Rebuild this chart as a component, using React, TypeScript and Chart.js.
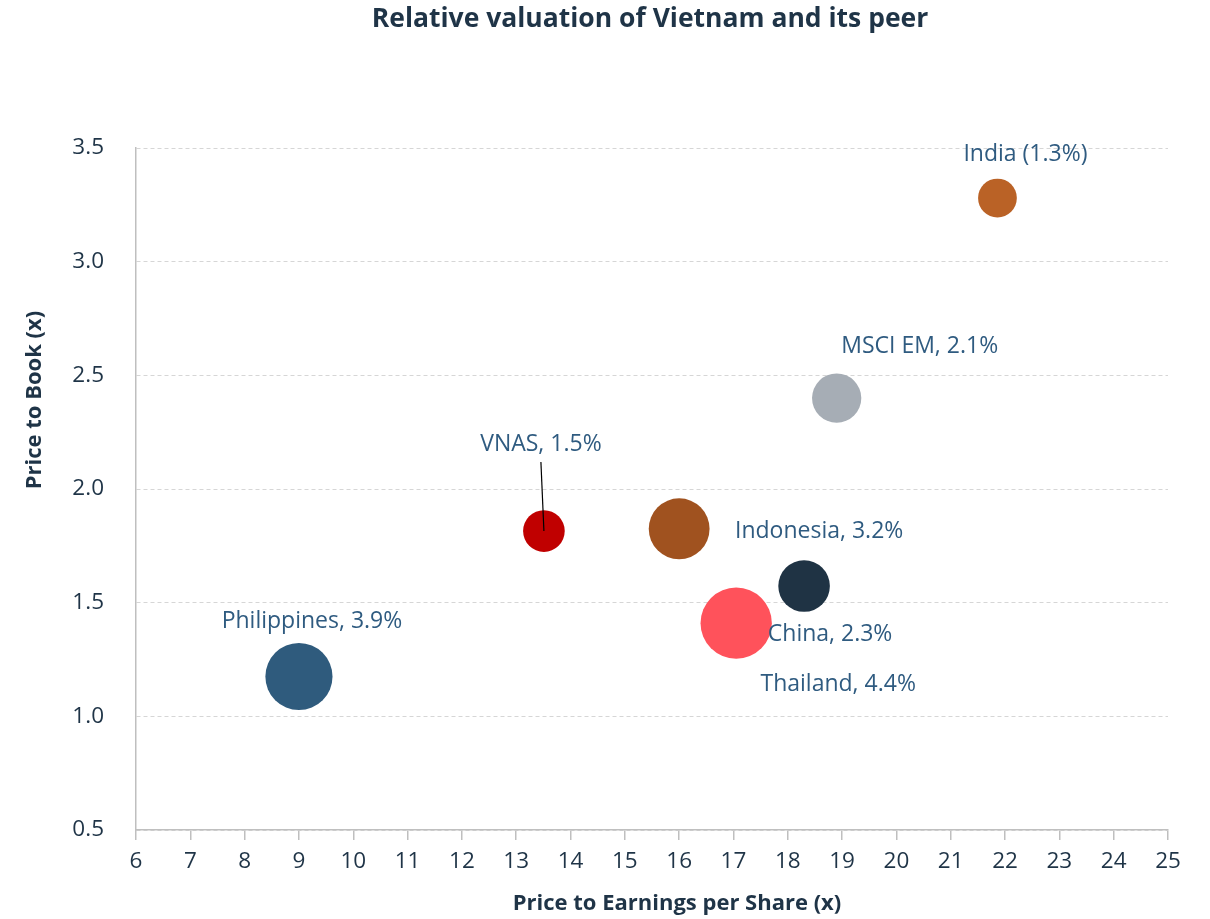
import React, { useEffect, useRef } from "react";
import { Chart, registerables } from "chart.js";

Chart.register(...registerables);

const names = ["India (1.3%)", "MSCI EM, 2.1%", "VNAS, 1.5%", "Indonesia, 3.2%", "China, 2.3%", "Thailand, 4.4%", "Philippines, 3.9%"];
const peValues = [21.86, 18.9, 13.51, 16.0, 18.3, 17.05, 9.0];
const pbValues = [3.28, 2.4, 1.815, 1.825, 1.573, 1.41, 1.175];
const weightPct = [1.3, 2.1, 1.5, 3.2, 2.3, 4.4, 3.9];
const colors = ["#BA6226", "#A6ADB5", "#C00000", "#A0521F", "#1F3344", "#FF525B", "#2F5B7D"];
const xTickValues = [6, 7, 8, 9, 10, 11, 12, 13, 14, 15, 16, 17, 18, 19, 20, 21, 22, 23, 24, 25];
const yTickValues = [0.5, 1.0, 1.5, 2.0, 2.5, 3.0, 3.5];
const titleText = "Relative valuation of Vietnam and its peer";
const xTitle = "Price to Earnings per Share (x)";
const yTitle = "Price to Book (x)";

// label offsets in pixels relative to bubble centre (layout only)
const labelOffsets: [number, number][] = [
  [28, -44], [83, -52], [-3, -87], [140, 3], [26, 48], [102, 61], [13, -55],
];

const FONT = "'Open Sans', 'Noto Sans', sans-serif";
const LABEL_COLOR = "#2F5B80";
const TEXT_DARK = "#1F3447";
const BUBBLE_SCALE = 17;

export default function App() {
  const ref = useRef<HTMLCanvasElement | null>(null);
  useEffect(() => {
    document.body.style.margin = "0";
    const labelPlugin = {
      id: "labels",
      afterDatasetsDraw(chart: any) {
        const ctx = chart.ctx;
        const meta = chart.getDatasetMeta(0);
        ctx.save();
        ctx.textAlign = "center";
        ctx.textBaseline = "middle";
        // chart title
        ctx.fillStyle = TEXT_DARK;
        ctx.font = `bold 26.5px ${FONT}`;
        ctx.fillText(titleText, 650, 19);
        // axis titles
        ctx.font = `bold 22px ${FONT}`;
        ctx.fillText(xTitle, 677, 904);
        ctx.save();
        ctx.translate(35, 400);
        ctx.rotate(-Math.PI / 2);
        ctx.fillText(yTitle, 0, 0);
        ctx.restore();
        // data labels
        ctx.font = `23px ${FONT}`;
        ctx.fillStyle = LABEL_COLOR;
        meta.data.forEach((el: any, i: number) => {
          const [dx, dy] = labelOffsets[i];
          ctx.fillText(names[i], el.x + dx, el.y + dy);
        });
        // VNAS leader line
        const v = meta.data[2];
        ctx.strokeStyle = "#000000";
        ctx.lineWidth = 1.2;
        ctx.beginPath();
        ctx.moveTo(v.x + labelOffsets[2][0], v.y + labelOffsets[2][1] + 18);
        ctx.lineTo(v.x, v.y);
        ctx.stroke();
        ctx.restore();
      },
    };
    const chart = new Chart(ref.current!, {
      type: "bubble",
      data: {
        datasets: [
          {
            data: peValues.map((x, i) => ({ x, y: pbValues[i], r: BUBBLE_SCALE * Math.sqrt(weightPct[i]) })),
            backgroundColor: colors,
            borderWidth: 0,
          },
        ],
      },
      options: {
        animation: false,
        responsive: true,
        maintainAspectRatio: false,
        layout: { padding: { top: 148, right: 42, left: 0, bottom: 0 } },
        plugins: { legend: { display: false }, tooltip: { enabled: false }, title: { display: false } },
        scales: {
          x: {
            type: "linear",
            min: 6,
            max: 25,
            afterBuildTicks: (s: any) => { s.ticks = xTickValues.map((v) => ({ value: v })); },
            afterFit: (s: any) => { s.height = 89; },
            grid: { drawOnChartArea: false, drawTicks: true, tickLength: 10, color: "#BFBFBF", lineWidth: 1.5 },
            border: { display: true, color: "#BFBFBF", width: 1.5 },
            ticks: { color: TEXT_DARK, font: { family: FONT, size: 22.5 }, padding: 8, maxRotation: 0 },
            title: { display: false },
          },
          y: {
            type: "linear",
            min: 0.5,
            max: 3.5,
            afterBuildTicks: (s: any) => { s.ticks = yTickValues.map((v) => ({ value: v })); },
            afterFit: (s: any) => { s.width = 136; },
            grid: { drawTicks: false, color: "#D6D6D6", lineWidth: 1 },
            border: { display: true, color: "#BFBFBF", width: 1.5, dash: [4, 3] },
            ticks: { color: TEXT_DARK, font: { family: FONT, size: 22.5 }, padding: 32, callback: (v: any) => Number(v).toFixed(1) },
            title: { display: false },
          },
        },
      },
      plugins: [labelPlugin],
    } as any);
    return () => chart.destroy();
  }, []);
  return (
    <div style={{ width: 1210, height: 919, position: "relative" }}>
      <canvas ref={ref} />
    </div>
  );
}
